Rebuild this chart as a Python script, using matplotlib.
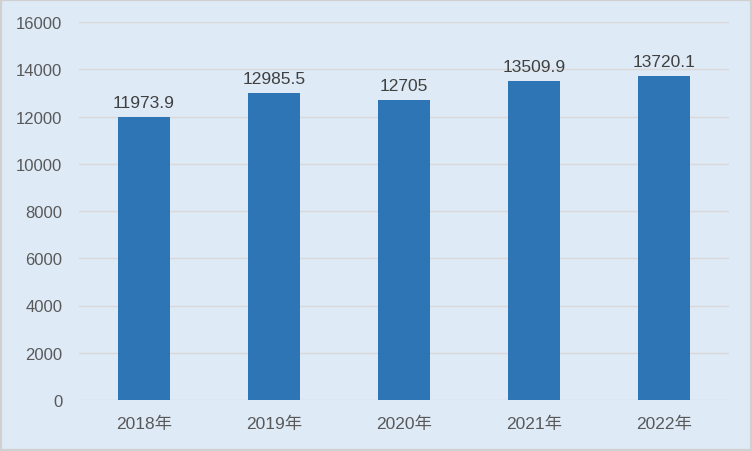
import matplotlib
matplotlib.use("Agg")
import matplotlib.pyplot as plt
from matplotlib.patches import Rectangle

categories = ["2018年", "2019年", "2020年", "2021年", "2022年"]
values = [11973.9, 12985.5, 12705, 13509.9, 13720.1]
value_labels = ["11973.9", "12985.5", "12705", "13509.9", "13720.1"]
yticks = [0, 2000, 4000, 6000, 8000, 10000, 12000, 14000, 16000]

plt.rcParams['font.family'] = ['Liberation Sans', 'Noto Sans CJK SC', 'DejaVu Sans']

bg = "#DEEAF6"
fig = plt.figure(figsize=(7.52, 4.52), dpi=100, facecolor=bg)
W, H = 752, 452
ax = fig.add_axes([79 / W, 1 - 401 / H, (729 - 79) / W, (401 - 23) / H])
ax.set_facecolor(bg)

x = list(range(len(categories)))
bars = ax.bar(x, values, width=0.4, color="#2E75B6", zorder=3)
for xi, v, lab in zip(x, values, value_labels):
    ax.annotate(lab, (xi, v), xytext=(0, 5), textcoords="offset points",
                ha="center", va="bottom", fontsize=12.5, color="#404040")

ax.set_xlim(-0.5, len(categories) - 0.5)
ax.set_ylim(0, 16000)
ax.set_yticks(yticks)
ax.set_yticklabels([str(t) for t in yticks])
ax.set_xticks(x)
ax.set_xticklabels(categories)
ax.tick_params(axis="y", length=0, pad=12, labelsize=12, labelcolor="#595959")
ax.tick_params(axis="x", length=0, pad=11, labelsize=12.5, labelcolor="#595959")
ax.grid(axis="y", color="#D9D9D9", linewidth=1, zorder=0)
for s in ax.spines.values():
    s.set_visible(False)

fig.patches.append(Rectangle((0, 0), 1, 1, transform=fig.transFigure,
                             fill=False, edgecolor="#D0D0D0", linewidth=3))

fig.savefig("out.png", dpi=100, facecolor=bg)
